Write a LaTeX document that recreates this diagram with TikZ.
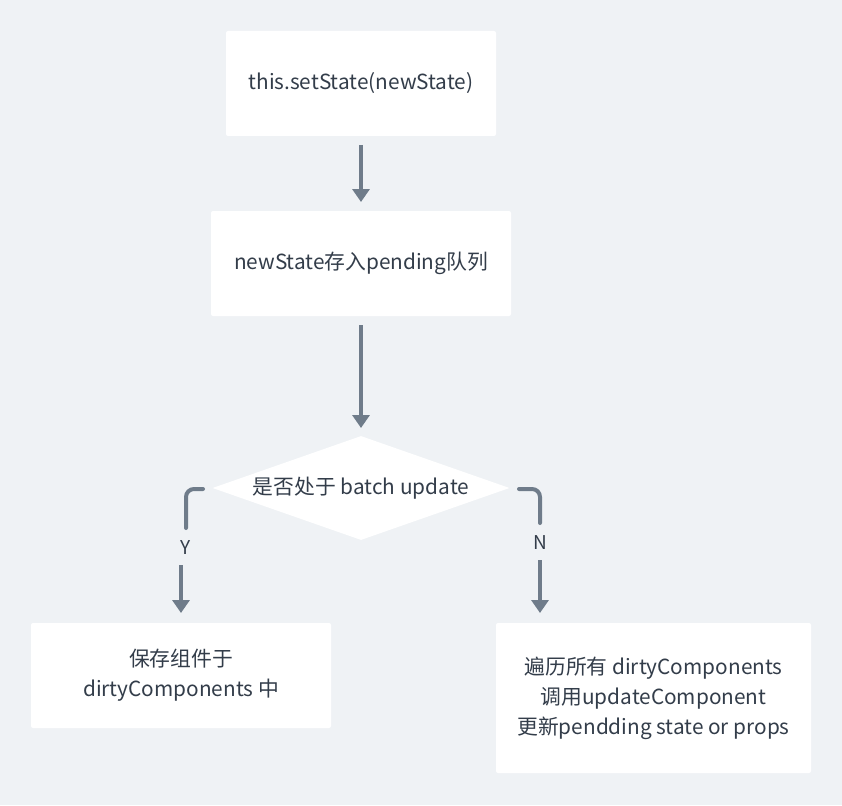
\documentclass[tikz,border=0pt]{standalone}
\usepackage{fontspec}
\setmainfont{Noto Sans CJK SC}
\usetikzlibrary{shapes.geometric,arrows.meta}
\definecolor{bgc}{HTML}{EFF2F5}
\definecolor{arc}{HTML}{6F7C8A}
\definecolor{txc}{HTML}{333D4A}
\tikzset{
  box/.style={fill=white, rounded corners=2pt, inner sep=0pt, text=txc, font=\fontsize{20.8}{30}\selectfont, align=center},
  conn/.style={draw=arc, line width=4pt, -{Triangle[length=13pt,width=17pt]}, rounded corners=8pt},
  seg/.style={draw=arc, line width=4pt, rounded corners=8pt, line cap=round},
  lbl/.style={text=txc, font=\fontsize{19}{22}\selectfont, inner sep=1pt}
}
\begin{document}
\begin{tikzpicture}[x=1pt,y=-1pt]
\useasboundingbox[fill=bgc] (0,0) rectangle (842,805);
\node[box, minimum width=270pt, minimum height=105pt] (b1) at (361,83.5) {this.setState(newState)};
\node[box, minimum width=300pt, minimum height=105pt] (b2) at (361,263.5) {newState存入pending队列};
\node[diamond, fill=white, minimum width=297pt, minimum height=104pt, inner sep=0pt, aspect=2.85] (d) at (361,488) {};
\node[text=txc, font=\fontsize{20.8}{30}\selectfont] at (d.center) {是否处于 batch update};
\node[box, minimum width=300pt, minimum height=105pt] (b3) at (181,675.5) {保存组件于\\dirtyComponents 中};
\node[box, minimum width=315pt, minimum height=150pt] (b4) at (653.5,698) {遍历所有 dirtyComponents\\调用updateComponent\\更新pendding state or props};
\coordinate (a1s) at (361,145);
\coordinate (a1e) at (361,202);
\coordinate (a2s) at (361,325);
\coordinate (a2e) at (361,428);
\draw[conn] (a1s) -- (a1e);
\draw[conn] (a2s) -- (a2e);
% Y branch
\coordinate (ys) at (203,489);
\coordinate (yc) at (186,489);
\coordinate (ym) at (186,528);
\node[lbl] (ylab) at (186,548) {Y};
\coordinate (y2s) at (181,565);
\coordinate (y2e) at (181,613);
\draw[seg] (ys) -- (yc) -- (ym);
\draw[conn, rounded corners=0pt] (y2s) -- (y2e);
% N branch
\coordinate (ns) at (519,489);
\coordinate (nc) at (540,489);
\coordinate (nm) at (540,523);
\node[lbl] (nlab) at (540,543) {N};
\coordinate (n2s) at (540,560);
\coordinate (n2e) at (540,613);
\draw[seg] (ns) -- (nc) -- (nm);
\draw[conn, rounded corners=0pt] (n2s) -- (n2e);
\end{tikzpicture}
\end{document}
